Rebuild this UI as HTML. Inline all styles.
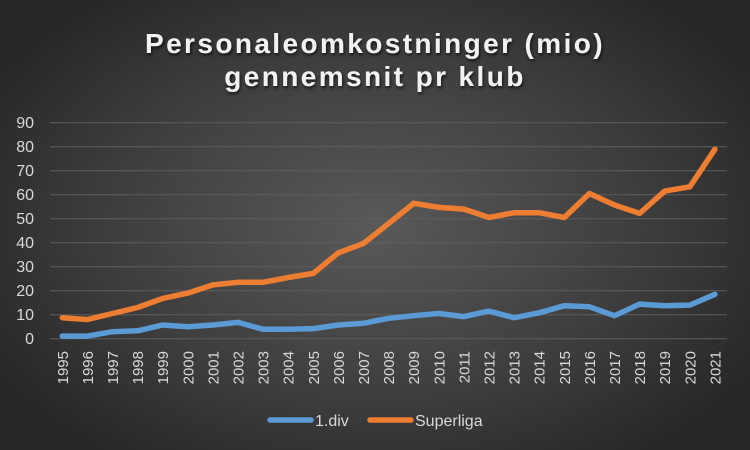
<!DOCTYPE html>
<html><head><meta charset="utf-8"><style>
html,body{margin:0;padding:0;}
body{width:750px;height:450px;overflow:hidden;background:radial-gradient(ellipse 60% 65% at 50% 50%,#595959 0%,#3d3d3d 60%,#262626 100%);}
svg{display:block;font-family:"Liberation Sans",sans-serif;}
</style></head><body>
<svg width="750" height="450" viewBox="0 0 750 450">
<defs><filter id="sh" x="-5%" y="-20%" width="110%" height="140%"><feDropShadow dx="1" dy="2" stdDeviation="1.5" flood-color="#000" flood-opacity="0.7"/></filter></defs>
<g font-weight="bold" font-size="28" fill="#f2f2f2" text-anchor="middle" letter-spacing="2.4" filter="url(#sh)">
<text x="375" y="53">Personaleomkostninger (mio)</text>
<text x="375" y="86">gennemsnit pr klub</text>
</g>
<g stroke="#5e5e5e" stroke-width="1">
<line x1="50" x2="727" y1="122.7" y2="122.7"/><line x1="50" x2="727" y1="146.7" y2="146.7"/>
<line x1="50" x2="727" y1="170.7" y2="170.7"/><line x1="50" x2="727" y1="194.7" y2="194.7"/>
<line x1="50" x2="727" y1="218.7" y2="218.7"/><line x1="50" x2="727" y1="242.7" y2="242.7"/>
<line x1="50" x2="727" y1="266.7" y2="266.7"/><line x1="50" x2="727" y1="290.7" y2="290.7"/>
<line x1="50" x2="727" y1="314.7" y2="314.7"/><line x1="50" x2="727" y1="338.7" y2="338.7"/>
</g>
<g font-size="16" fill="#d9d9d9" text-anchor="end">
<text x="34" y="128">90</text><text x="34" y="152">80</text><text x="34" y="176">70</text>
<text x="34" y="200">60</text><text x="34" y="224">50</text><text x="34" y="248">40</text>
<text x="34" y="272">30</text><text x="34" y="296">20</text><text x="34" y="320">10</text>
<text x="34" y="344">0</text>
</g>
<polyline id="o" fill="none" stroke="#ed7d31" stroke-width="5.5" stroke-linejoin="round" stroke-linecap="round"/>
<polyline id="b" fill="none" stroke="#5b9bd5" stroke-width="5.5" stroke-linejoin="round" stroke-linecap="round"/>
<g font-size="15" fill="#d9d9d9" text-anchor="end">
<text transform="translate(67.8,351) rotate(-90)">1995</text>
<text transform="translate(92.9,351) rotate(-90)">1996</text>
<text transform="translate(118,351) rotate(-90)">1997</text>
<text transform="translate(143.1,351) rotate(-90)">1998</text>
<text transform="translate(168.2,351) rotate(-90)">1999</text>
<text transform="translate(193.3,351) rotate(-90)">2000</text>
<text transform="translate(218.4,351) rotate(-90)">2001</text>
<text transform="translate(243.5,351) rotate(-90)">2002</text>
<text transform="translate(268.6,351) rotate(-90)">2003</text>
<text transform="translate(293.7,351) rotate(-90)">2004</text>
<text transform="translate(318.8,351) rotate(-90)">2005</text>
<text transform="translate(343.9,351) rotate(-90)">2006</text>
<text transform="translate(369,351) rotate(-90)">2007</text>
<text transform="translate(394.1,351) rotate(-90)">2008</text>
<text transform="translate(419.2,351) rotate(-90)">2009</text>
<text transform="translate(444.3,351) rotate(-90)">2010</text>
<text transform="translate(469.4,351) rotate(-90)">2011</text>
<text transform="translate(494.5,351) rotate(-90)">2012</text>
<text transform="translate(519.6,351) rotate(-90)">2013</text>
<text transform="translate(544.7,351) rotate(-90)">2014</text>
<text transform="translate(569.8,351) rotate(-90)">2015</text>
<text transform="translate(594.9,351) rotate(-90)">2016</text>
<text transform="translate(620,351) rotate(-90)">2017</text>
<text transform="translate(645.1,351) rotate(-90)">2018</text>
<text transform="translate(670.2,351) rotate(-90)">2019</text>
<text transform="translate(695.3,351) rotate(-90)">2020</text>
<text transform="translate(720.4,351) rotate(-90)">2021</text>
</g>
<line x1="270" x2="311" y1="420" y2="420" stroke="#5b9bd5" stroke-width="5.5" stroke-linecap="round"/>
<line x1="370" x2="411" y1="420" y2="420" stroke="#ed7d31" stroke-width="5.5" stroke-linecap="round"/>
<g font-size="16" fill="#d9d9d9">
<text x="315" y="426">1.div</text>
<text x="415" y="426">Superliga</text>
</g>
</svg>
<script>
var o=[8.75,8,10.5,13,16.8,19,22.4,23.5,23.5,25.5,27.2,35.8,39.7,48,56.4,54.7,54,50.5,52.5,52.5,50.5,60.5,55.7,52.2,61.5,63.3,78.9];
var b=[1.1,1.1,2.9,3.3,5.7,5,5.7,6.8,3.9,3.9,4.2,5.7,6.4,8.5,9.6,10.5,9.2,11.5,8.75,10.8,13.75,13.3,9.6,14.4,13.75,14,18.5];
function pts(a){return a.map(function(v,i){return (62.3+25.1*i).toFixed(1)+","+(338.7-v*2.4).toFixed(1);}).join(" ");}
document.getElementById("o").setAttribute("points",pts(o));
document.getElementById("b").setAttribute("points",pts(b));
</script>
</body></html>
